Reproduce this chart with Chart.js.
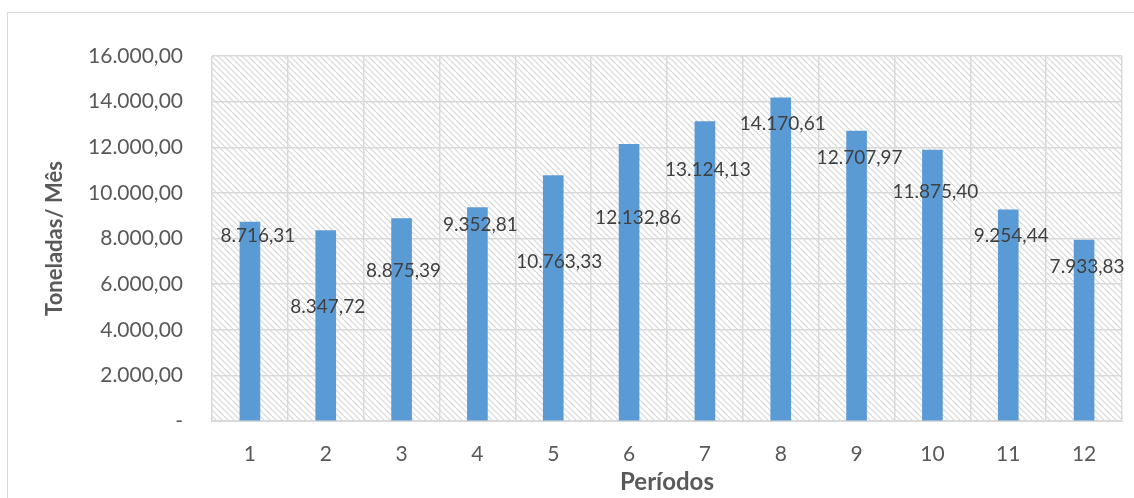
<!DOCTYPE html>
<html lang="pt-BR">
<head>
<meta charset="utf-8">
<title>Toneladas por mês</title>
<script src="https://cdn.jsdelivr.net/npm/chart.js@4.4.1/dist/chart.umd.min.js"></script>
<style>
  html, body { margin: 0; padding: 0; background: #ffffff; }
  #wrap { position: relative; width: 1134px; height: 498px; overflow: hidden; }
  canvas { display: block; }
</style>
</head>
<body>
<div id="wrap"><canvas id="grafico" width="1134" height="498"></canvas></div>
<script>
// Períodos (meses) e toneladas movimentadas em cada um
const periodos = ['1', '2', '3', '4', '5', '6', '7', '8', '9', '10', '11', '12'];
const toneladas = [8716.31, 8347.72, 8875.39, 9352.81, 10763.33, 12132.86,
                   13124.13, 14170.61, 12707.97, 11875.40, 9254.44, 7933.83];

// Marcas do eixo vertical e seus rótulos
const yTickValues = [0, 2000, 4000, 6000, 8000, 10000, 12000, 14000, 16000];
const yTickLabels = ['-', '2.000,00', '4.000,00', '6.000,00', '8.000,00',
                     '10.000,00', '12.000,00', '14.000,00', '16.000,00'];

// Deslocamento (px) de cada rótulo de valor em relação ao topo da barra
const labelShift = [[8, 14], [2, 76], [2, 52], [3, 17], [6, 86], [9, 74],
                    [3, 48], [2, 26], [3, 27], [3, 42], [3, 26], [3, 27]];

const FONT = 'Lato, "Open Sans", "Liberation Sans", sans-serif';

function formatBR(v) {
  const parts = v.toFixed(2).split('.');
  const inteiro = parts[0].replace(/\B(?=(\d{3})+(?!\d))/g, '.');
  return inteiro + ',' + parts[1];
}

// Hachura diagonal do fundo da área de plotagem
function hatchPattern(ctx) {
  const size = 6;
  const c = document.createElement('canvas');
  c.width = size; c.height = size;
  const p = c.getContext('2d');
  p.fillStyle = '#ffffff';
  p.fillRect(0, 0, size, size);
  p.strokeStyle = '#d6d6d6';
  p.lineWidth = 1.2;
  p.beginPath();
  p.moveTo(-1, -1); p.lineTo(size + 1, size + 1);
  p.moveTo(-1, size - 1); p.lineTo(1, size + 1);
  p.moveTo(size - 1, -1); p.lineTo(size + 1, 1);
  p.stroke();
  return ctx.createPattern(c, 'repeat');
}

const fundoPlugin = {
  id: 'fundo',
  beforeDraw(chart) {
    const { ctx, chartArea: a } = chart;
    ctx.save();
    ctx.fillStyle = '#ffffff';
    ctx.fillRect(0, 0, chart.width, chart.height);
    // moldura externa do gráfico
    ctx.strokeStyle = '#d9d9d9';
    ctx.lineWidth = 1;
    ctx.strokeRect(7.5, 12.5, 2000, 2000);
    ctx.fillStyle = hatchPattern(ctx);
    ctx.fillRect(a.left, a.top, a.right - a.left, a.bottom - a.top);
    ctx.restore();
  }
};

const rotulosPlugin = {
  id: 'rotulos',
  afterDatasetsDraw(chart) {
    const { ctx } = chart;
    const meta = chart.getDatasetMeta(0);
    ctx.save();
    ctx.font = '19px ' + FONT;
    ctx.fillStyle = '#404040';
    ctx.textAlign = 'center';
    ctx.textBaseline = 'middle';
    meta.data.forEach((bar, i) => {
      const s = labelShift[i];
      ctx.fillText(formatBR(toneladas[i]), bar.x + s[0], bar.y + s[1]);
    });
    ctx.restore();
  }
};

new Chart(document.getElementById('grafico'), {
  type: 'bar',
  data: {
    labels: periodos,
    datasets: [{
      data: toneladas,
      backgroundColor: '#5b9bd5',
      borderWidth: 0,
      barThickness: 20
    }]
  },
  options: {
    responsive: false,
    animation: false,
    devicePixelRatio: 1,
    layout: { padding: { top: 56, right: 12, bottom: 0, left: 0 } },
    plugins: {
      legend: { display: false },
      tooltip: { enabled: false }
    },
    scales: {
      x: {
        grid: { color: '#d9d9d9', lineWidth: 1.5, drawTicks: false, offset: true },
        border: { color: '#d9d9d9', width: 2 },
        ticks: { color: '#595959', font: { family: FONT, size: 21 }, padding: 21 },
        title: {
          display: true, text: 'Períodos', color: '#595959',
          font: { family: FONT, size: 24, weight: 'bold' },
          padding: { top: 0, bottom: 1 }
        },
        afterFit(scale) { scale.height = 77; }
      },
      y: {
        min: 0, max: 16000,
        afterBuildTicks(scale) { scale.ticks = yTickValues.map(v => ({ value: v })); },
        grid: { color: '#d9d9d9', lineWidth: 1.5, drawTicks: false },
        border: { display: false },
        ticks: {
          color: '#595959', font: { family: FONT, size: 21 }, padding: 29,
          callback(value) {
            const i = yTickValues.indexOf(value);
            return i >= 0 ? yTickLabels[i] : '';
          }
        },
        title: {
          display: true, text: 'Toneladas/ Mês', color: '#595959',
          font: { family: FONT, size: 22, weight: 'bold' },
          padding: { top: 42, bottom: 0 }
        },
        afterFit(scale) { scale.width = 212; }
      }
    }
  },
  plugins: [fundoPlugin, rotulosPlugin]
});
</script>
</body>
</html>
